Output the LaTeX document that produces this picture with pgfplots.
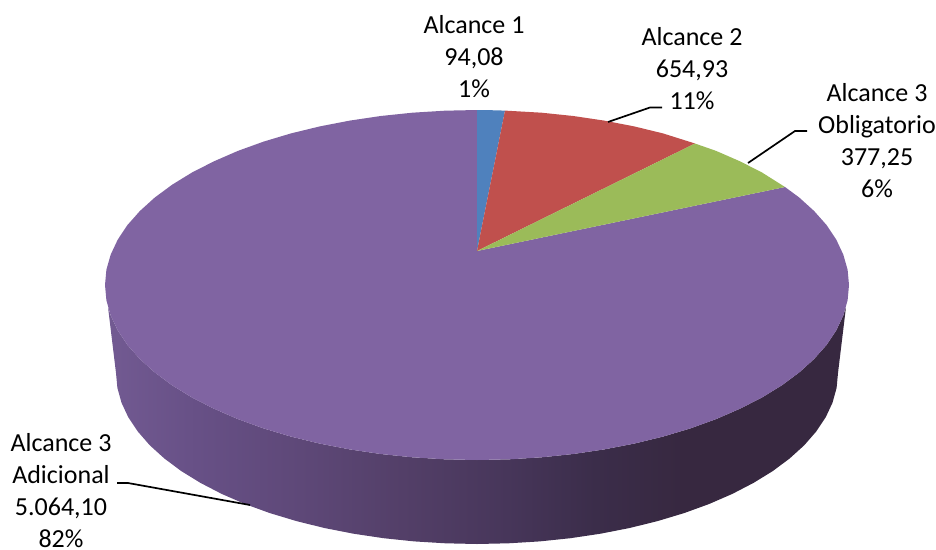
\documentclass[border=0pt]{standalone}
\usepackage{fontspec}
\setmainfont{Carlito}
\usepackage{pgfplots}
\pgfplotsset{compat=1.18}
\definecolor{blueA}{HTML}{4F81BD}
\definecolor{redA}{HTML}{C0504D}
\definecolor{greenA}{HTML}{9BBB59}
\definecolor{purpleA}{HTML}{8064A2}
\definecolor{s0}{HTML}{725A92}
\definecolor{s1}{HTML}{675086}
\definecolor{s2}{HTML}{5E4878}
\definecolor{s3}{HTML}{533F68}
\definecolor{s4}{HTML}{47365A}
\definecolor{s5}{HTML}{3B2D4A}
\definecolor{s6}{HTML}{372840}
\pgfdeclarehorizontalshading{sidegrad}{100bp}{
color(0bp)=(s0); color(25bp)=(s0); color(31bp)=(s1); color(38bp)=(s2);
color(45bp)=(s3); color(52bp)=(s4); color(58bp)=(s5); color(64bp)=(s6);
color(75bp)=(s6); color(100bp)=(s6)}
\newcommand{\lbl}{\fontsize{26}{32}\selectfont}
\begin{document}
\begin{tikzpicture}
\path[use as bounding box] (0,0) rectangle (936pt,549pt);
\begin{axis}[
  at={(0,0)}, anchor=south west,
  scale only axis, width=936pt, height=549pt,
  xmin=0, xmax=936, ymin=0, ymax=549, y dir=reverse,
  hide axis, clip=false,
  every axis plot/.append style={no markers}
]
% side of the disc
\addplot[shade, shading=sidegrad, draw=none] coordinates {
(846,307) (843.3,315.4) (836.3,330.3) (826.6,344.9) (814.1,359) (799.2,372.5) (781.7,385.4) (762,397.5) (740,408.7) (716.1,419.1) (690.4,428.4) (663,436.6) (634.2,443.6) (604.2,449.4) (573.3,454) (541.6,457.3) (509.4,459.3) (477,460)
(444.6,459.3) (412.4,457.3) (380.7,454) (349.8,449.4) (319.8,443.6) (291,436.6) (263.6,428.4) (237.9,419.1) (214,408.7) (192,397.5) (172.3,385.4) (154.8,372.5) (139.9,359) (127.4,344.9) (117.7,330.3) (110.7,315.4) (108,307)
(116,373) (117.4,387.9) (121.5,402.7) (128.3,417.3) (137.8,431.5) (149.8,445.3) (164.4,458.5) (181.3,471.1) (200.5,482.9) (221.7,493.9) (244.9,504) (269.9,513.1) (296.5,521.1) (324.4,528) (353.5,533.7) (383.6,538.2) (414.3,541.4) (445.5,543.3) (477,544)
(508.5,543.3) (539.7,541.4) (570.4,538.2) (600.5,533.7) (629.6,528) (657.5,521.1) (684.1,513.1) (709.1,504) (732.3,493.9) (753.5,482.9) (772.7,471.1) (789.6,458.5) (804.2,445.3) (816.2,431.5) (825.7,417.3) (832.5,402.7) (836.6,387.9) (838,373)
} -- cycle;
% Alcance 3 Adicional
\addplot[fill=purpleA, draw=none] coordinates {
(477,251) (785,187) (799.2,197.5) (814.1,211) (826.6,225.1) (836.3,239.7) (843.3,254.6) (847.6,269.7) (849,285)
(847.6,300.3) (843.3,315.4) (836.3,330.3) (826.6,344.9) (814.1,359) (799.2,372.5) (781.7,385.4) (762,397.5) (740,408.7) (716.1,419.1) (690.4,428.4) (663,436.6) (634.2,443.6) (604.2,449.4) (573.3,454) (541.6,457.3) (509.4,459.3) (477,460)
(444.6,459.3) (412.4,457.3) (380.7,454) (349.8,449.4) (319.8,443.6) (291,436.6) (263.6,428.4) (237.9,419.1) (214,408.7) (192,397.5) (172.3,385.4) (154.8,372.5) (139.9,359) (127.4,344.9) (117.7,330.3) (110.7,315.4) (106.4,300.3) (105,285)
(106.4,269.7) (110.7,254.6) (117.7,239.7) (127.4,225.1) (139.9,211) (154.8,197.5) (172.3,184.6) (192,172.5) (214,161.3) (237.9,150.9) (263.6,141.6) (291,133.4) (319.8,126.4) (349.8,120.6) (380.7,116) (412.4,112.7) (444.6,110.7) (477,110)
} -- cycle;
% Alcance 1
\addplot[fill=blueA, draw=none] coordinates {
(477,251) (477,110) (491,110.2) (505,110.6)
} -- cycle;
% Alcance 2
\addplot[fill=redA, draw=none] coordinates {
(477,251) (505,110.6) (541.6,112.7) (573.3,116) (604.2,120.6) (634.2,126.4) (663,133.4) (695,143.5)
} -- cycle;
% Alcance 3 Obligatorio
\addplot[fill=greenA, draw=none] coordinates {
(477,251) (695,143.5) (716.1,150.9) (740,161.3) (762,172.5) (785,187)
} -- cycle;
% leader lines
\addplot[black, line width=1.7pt] coordinates {(608,122) (650,107.5) (662,107.5)};
\addplot[black, line width=1.7pt] coordinates {(748,163) (795,131) (807,131)};
\addplot[black, line width=1.7pt] coordinates {(250,505) (128,483) (117,483)};
% labels
\node[align=center, inner sep=0pt, font=\lbl] at (axis cs:474,57) {Alcance 1\\94,08\\1\%};
\node[align=center, inner sep=0pt, font=\lbl] at (axis cs:692,69) {Alcance 2\\654,93\\11\%};
\node[align=center, inner sep=0pt, font=\lbl] at (axis cs:877,141) {Alcance 3\\Obligatorio\\377,25\\6\%};
\node[align=center, inner sep=0pt, font=\lbl] at (axis cs:61,491) {Alcance 3\\Adicional\\5.064,10\\82\%};
\end{axis}
\end{tikzpicture}
\end{document}
